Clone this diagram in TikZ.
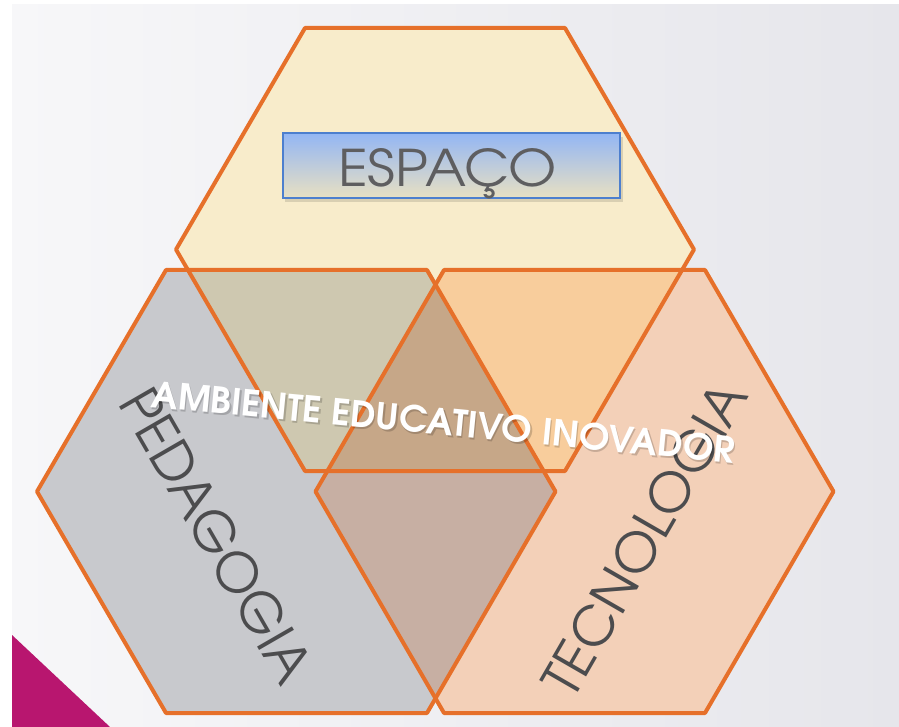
\documentclass[tikz,border=0pt]{standalone}
\usepackage{fontspec}
\usepackage{graphicx}
\newfontfamily\adv[BoldFont=texgyreadventor-bold.otf]{texgyreadventor-regular.otf}
\definecolor{hexline}{HTML}{E6702A}
\definecolor{cT}{HTML}{F8ECCB}
\definecolor{cL}{HTML}{C8C9CD}
\definecolor{cR}{HTML}{F3D0B8}
\definecolor{cTL}{HTML}{CEC8B0}
\definecolor{cTR}{HTML}{F8CD9C}
\definecolor{cLR}{HTML}{C7AFA3}
\definecolor{cTLR}{HTML}{C6A788}
\definecolor{magA}{HTML}{B8166F}
\definecolor{bgL}{HTML}{F7F7F9}
\definecolor{bgR}{HTML}{E6E6EB}
\definecolor{boxTop}{HTML}{93B6F4}
\definecolor{boxMid}{HTML}{98AAC6}
\definecolor{boxBot}{HTML}{E8E0C2}
\definecolor{boxLine}{HTML}{4D7FCE}
\definecolor{wordGray}{HTML}{4C4C4E}
\tikzset{
  hexedge/.style={draw=hexline, line width=4pt, line join=round},
  word/.style={inner sep=0pt, anchor=base west, text=wordGray},
}
\def\hexT{(305,28) -- (565,28) -- (694,249.5) -- (565,471) -- (305,471) -- (176,249.5) -- cycle}
\def\hexL{(166,270) -- (427,270) -- (555.5,491.5) -- (427,713) -- (166,713) -- (37,491.5) -- cycle}
\def\hexR{(444,270) -- (705,270) -- (833.5,491.5) -- (705,713) -- (444,713) -- (315.5,491.5) -- cycle}
\begin{document}
\begin{tikzpicture}[x=1pt,y=-1pt]
\useasboundingbox (0,0) rectangle (899,727);
% background
\fill[white] (0,0) rectangle (899,727);
\shade[left color=bgL, right color=bgR] (12,5) rectangle (899,727);
\fill[magA] (12,635) -- (12,727) -- (110,727) -- cycle;
% hexagon fills
\fill[cT] \hexT;
\fill[cL] \hexL;
\fill[cR] \hexR;
\begin{scope}
  \clip \hexT;
  \fill[cTL] \hexL;
  \fill[cTR] \hexR;
\end{scope}
\begin{scope}
  \clip \hexL;
  \fill[cLR] \hexR;
  \clip \hexR;
  \fill[cTLR] \hexT;
\end{scope}
% outlines
\draw[hexedge] \hexT;
\draw[hexedge] \hexL;
\draw[hexedge] \hexR;
% ESPACO box
\fill[black, opacity=0.12] (285,137) rectangle (623,202);
\shade[top color=boxTop, middle color=boxMid, bottom color=boxBot] (283,133) rectangle (620,198);
\draw[boxLine, line width=1.6pt] (283,133) rectangle (620,198);
\node[word, text=wordGray!90] (espaco) at (338,187) {\resizebox{218pt}{38pt}{\adv ESPAÇO}};
% rotated words
\node[word, rotate=-60] (pedagogia) at (117,403) {\resizebox{329pt}{41pt}{\adv PEDAGOGIA}};
\node[word, rotate=60] (tecnologia) at (573,701) {\resizebox{352pt}{40pt}{\adv TECNOLOGIA}};
% central label
\node[word, rotate=-5.5, text=black, opacity=0.18] (ambshadow) at (151.5,409) {\resizebox{586pt}{27pt}{\adv\bfseries AMBIENTE EDUCATIVO INOVADOR}};
\node[word, rotate=-5.5, text=white] (ambiente) at (150,407) {\resizebox{586pt}{27pt}{\adv\bfseries AMBIENTE EDUCATIVO INOVADOR}};
\end{tikzpicture}
\end{document}
